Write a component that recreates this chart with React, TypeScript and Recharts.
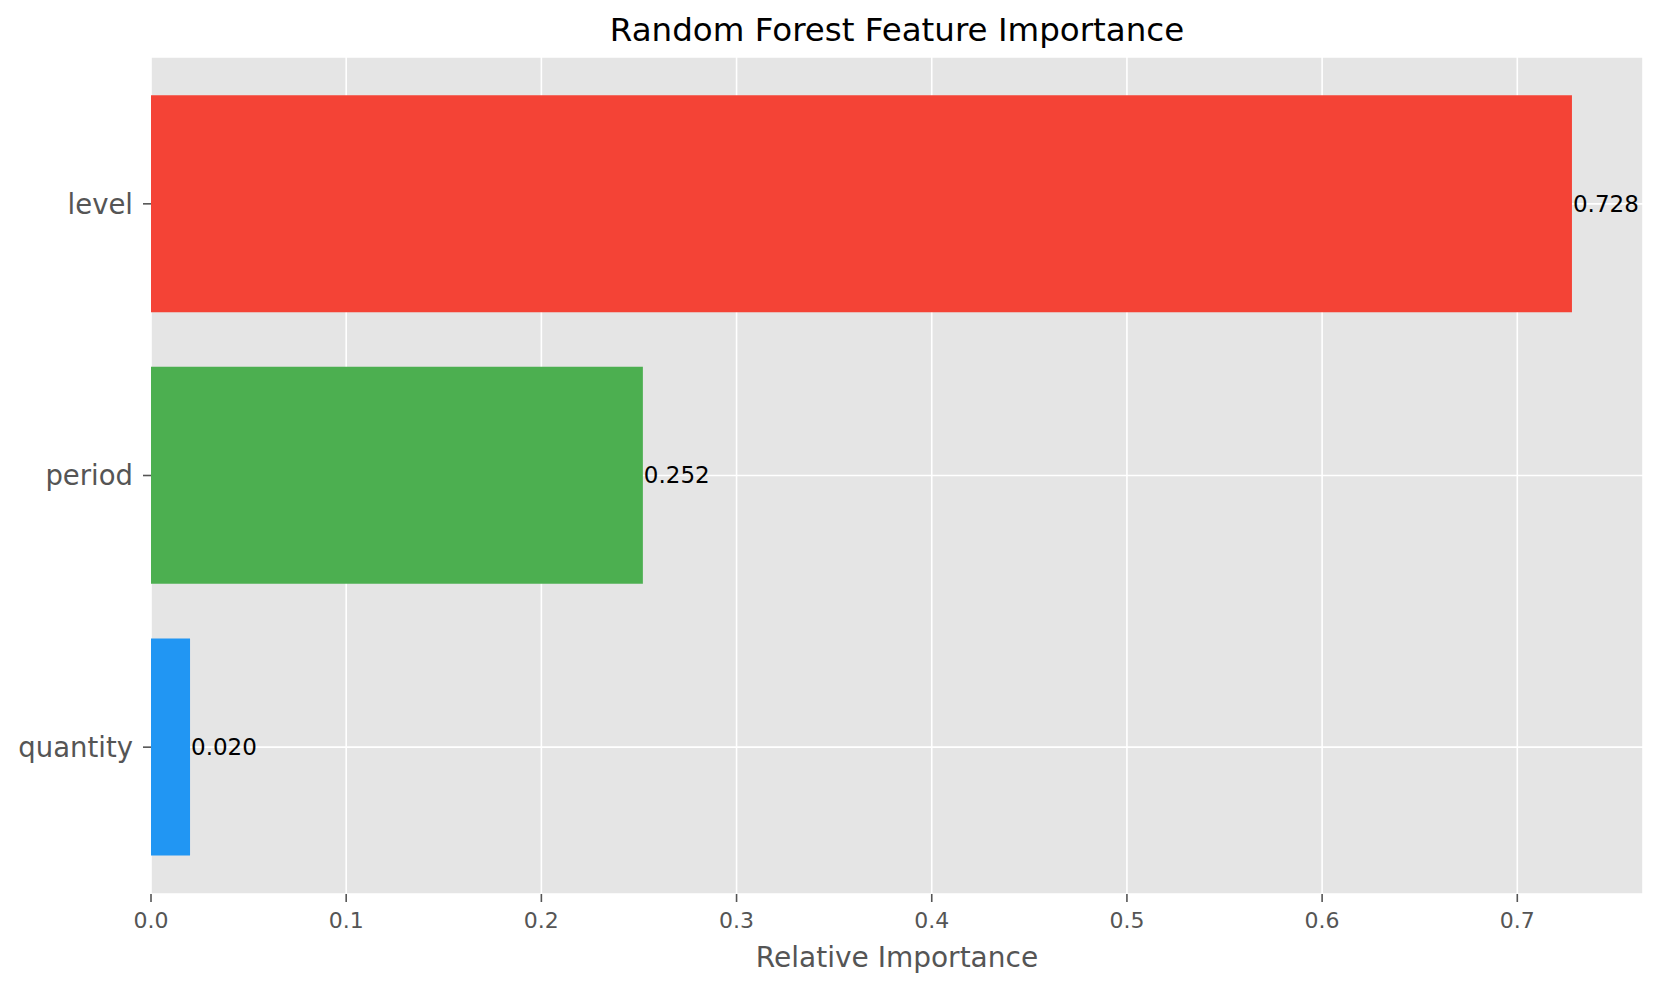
import { BarChart, Bar, XAxis, YAxis, CartesianGrid, Cell, LabelList, Label } from 'recharts';

// feature importances, top to bottom
const features = ['level', 'period', 'quantity'];
const importance = [0.728, 0.252, 0.02];
const barColors = ['#F44336', '#4CAF50', '#2196F3'];
const xTicks = [0, 0.1, 0.2, 0.3, 0.4, 0.5, 0.6, 0.7];

const data = features.map((name, i) => ({ name, value: importance[i] }));

const FONT = '"DejaVu Sans", sans-serif';

export default function App() {
	return (
		<div style={{ position: 'absolute', left: 0, top: 0, width: 1661, height: 988, background: '#fff', fontFamily: FONT }}>
			<div
				style={{
					position: 'absolute',
					left: 151,
					width: 1492,
					top: 14,
					textAlign: 'center',
					fontSize: 32.5,
					lineHeight: '32px',
					color: '#000',
				}}
			>
				Random Forest Feature Importance
			</div>
			<BarChart
				width={1661}
				height={988}
				data={data}
				layout="vertical"
				margin={{ top: 57, right: 18, bottom: 0, left: 0 }}
				barCategoryGap="10%"
			>
				<CartesianGrid fill="#E5E5E5" stroke="#FFFFFF" strokeWidth={1.6} />
				<XAxis
					type="number"
					domain={[0, 0.7644]}
					ticks={xTicks}
					tickFormatter={(v: number) => v.toFixed(1)}
					axisLine={false}
					tickSize={8}
					tickMargin={10}
					tickLine={{ stroke: '#555555', strokeWidth: 1.6 }}
					tick={{ fill: '#555555', fontSize: 22, fontFamily: FONT }}
					height={94}
					allowDataOverflow
				>
					<Label
						value="Relative Importance"
						position="insideBottom"
						offset={21}
						fill="#555555"
						fontSize={28}
						fontFamily={FONT}
					/>
				</XAxis>
				<YAxis
					type="category"
					dataKey="name"
					width={151}
					padding={{ top: 11, bottom: 11 }}
					axisLine={false}
					tickSize={8}
					tickMargin={10}
					tickLine={{ stroke: '#555555', strokeWidth: 1.6 }}
					tick={{ fill: '#555555', fontSize: 27.5, fontFamily: FONT }}
				/>
				<Bar dataKey="value" isAnimationActive={false}>
					{data.map((d, i) => (
						<Cell key={d.name} fill={barColors[i]} />
					))}
					<LabelList
						dataKey="value"
						position="right"
						offset={1}
						formatter={(v: number) => v.toFixed(3)}
						fill="#000000"
						fontSize={23}
						fontFamily={FONT}
					/>
				</Bar>
			</BarChart>
		</div>
	);
}
